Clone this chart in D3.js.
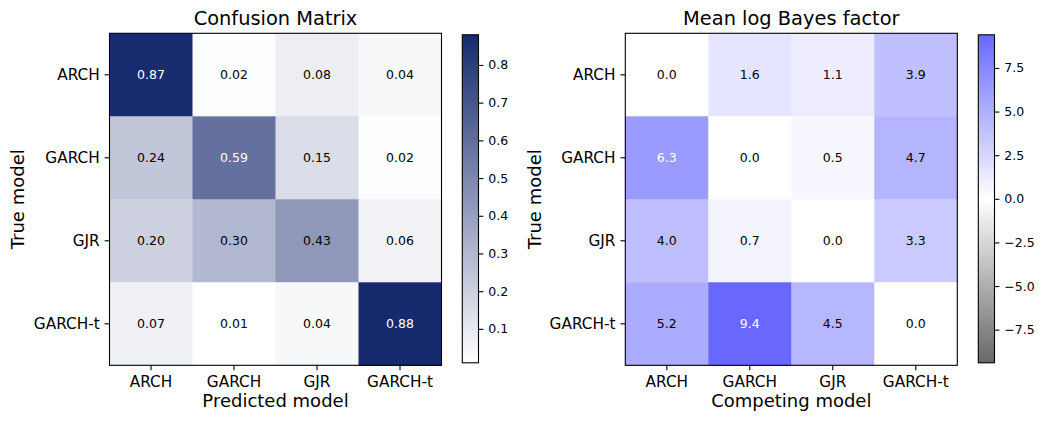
<!DOCTYPE html>
<html>
<head>
<meta charset="utf-8">
<script src="https://cdn.jsdelivr.net/npm/d3@7"></script>
<style>
  body { margin: 0; background: #fff; }
  svg text { font-family: "DejaVu Sans", sans-serif; }
</style>
</head>
<body>
<div id="chart"></div>
<script>
// model names, used on both axes of both panels
var models = ["ARCH", "GARCH", "GJR", "GARCH-t"];

// left panel: rows = true model, columns = predicted model
var confusion = [
  [0.87, 0.02, 0.08, 0.04],
  [0.24, 0.59, 0.15, 0.02],
  [0.20, 0.30, 0.43, 0.06],
  [0.07, 0.01, 0.04, 0.88]
];
var confusionTicks = [0.1, 0.2, 0.3, 0.4, 0.5, 0.6, 0.7, 0.8];

// right panel: rows = true model, columns = competing model
var bayes = [
  [0.0, 1.6, 1.1, 3.9],
  [6.3, 0.0, 0.5, 4.7],
  [4.0, 0.7, 0.0, 3.3],
  [5.2, 9.4, 4.5, 0.0]
];
var bayesTicks = [-7.5, -5.0, -2.5, 0.0, 2.5, 5.0, 7.5];

var W = 1044, H = 423;
var svg = d3.select("#chart").append("svg")
    .attr("width", W)
    .attr("height", H);
var defs = svg.append("defs");

var size = 332, top0 = 33.3;
var tickLen = 4.9, tickPad = 4.9;

var drawPanel = function(opt) {
  var g = svg.append("g")
      .attr("transform", "translate(" + opt.left + "," + top0 + ")");

  var x = d3.scaleBand().domain(models).range([0, size]);
  var y = d3.scaleBand().domain(models).range([0, size]);

  // cells
  var cells = [];
  opt.data.forEach(function(row, i) {
    row.forEach(function(v, j) {
      cells.push({row: models[i], col: models[j], v: v});
    });
  });

  g.selectAll("rect.cell")
    .data(cells)
    .join("rect")
      .attr("class", "cell")
      .attr("x", d => x(d.col))
      .attr("y", d => y(d.row))
      .attr("width", x.bandwidth() + 0.5)
      .attr("height", y.bandwidth() + 0.5)
      .attr("fill", d => opt.color(d.v));

  g.selectAll("text.val")
    .data(cells)
    .join("text")
      .attr("class", "val")
      .attr("x", d => x(d.col) + x.bandwidth() / 2)
      .attr("y", d => y(d.row) + y.bandwidth() / 2)
      .attr("text-anchor", "middle")
      .attr("dominant-baseline", "central")
      .style("font-size", "12.5px")
      .attr("fill", d => d.v > opt.whiteAbove ? "#fff" : "#000")
      .text(d => opt.fmt(d.v));

  // frame
  g.append("rect")
    .attr("width", size)
    .attr("height", size)
    .attr("fill", "none")
    .attr("stroke", "#000")
    .attr("stroke-width", 1.1);

  // axes
  var xa = g.append("g")
    .attr("transform", "translate(0," + size + ")")
    .call(d3.axisBottom(x).tickSize(tickLen).tickPadding(5.8));
  var ya = g.append("g")
    .call(d3.axisLeft(y).tickSize(tickLen).tickPadding(tickPad));
  [xa, ya].forEach(function(a) {
    a.select(".domain").remove();
    a.attr("font-family", null).attr("font-size", null);
    a.selectAll("line").attr("stroke", "#000").attr("stroke-width", 1.1);
    a.selectAll("text").style("font-size", "15.3px").attr("fill", "#000");
  });

  // title and labels
  g.append("text")
    .attr("x", size / 2)
    .attr("y", 25 - top0)
    .attr("text-anchor", "middle")
    .style("font-size", "19.4px")
    .text(opt.title);
  g.append("text")
    .attr("x", size / 2)
    .attr("y", 407.5 - top0)
    .attr("text-anchor", "middle")
    .style("font-size", "18px")
    .text(opt.xlabel);
  g.append("text")
    .attr("transform", "translate(" + (opt.ylabelX - opt.left) + "," + (size / 2) + ") rotate(-90)")
    .attr("text-anchor", "middle")
    .style("font-size", "18px")
    .text("True model");

  // colorbar
  var cbTop = 34.8, cbBot = 362.8, cbW = 16.2;
  var dom = opt.color.domain();
  var cy = d3.scaleLinear()
    .domain([dom[0], dom[dom.length - 1]])
    .range([cbBot - cbTop, 0]);

  var grad = defs.append("linearGradient")
    .attr("id", opt.id)
    .attr("x1", 0).attr("y1", 1).attr("x2", 0).attr("y2", 0);
  grad.selectAll("stop")
    .data(dom)
    .join("stop")
      .attr("offset", d => (d - dom[0]) / (dom[dom.length - 1] - dom[0]))
      .attr("stop-color", d => opt.color(d));

  var cb = svg.append("g")
    .attr("transform", "translate(" + opt.cbX + "," + cbTop + ")");
  cb.append("rect")
    .attr("width", cbW)
    .attr("height", cbBot - cbTop)
    .attr("fill", "url(#" + opt.id + ")")
    .attr("stroke", "#000")
    .attr("stroke-width", 1.1);
  var ca = cb.append("g")
    .attr("transform", "translate(" + cbW + ",0)")
    .call(d3.axisRight(cy).tickValues(opt.ticks).tickFormat(d3.format(".1f"))
      .tickSize(tickLen).tickPadding(tickPad));
  ca.select(".domain").remove();
  ca.attr("font-family", null).attr("font-size", null);
  ca.selectAll("line").attr("stroke", "#000").attr("stroke-width", 1.1);
  ca.selectAll("text").style("font-size", "12.5px").attr("fill", "#000");
};

drawPanel({
  id: "cm-grad",
  left: 109.5,
  cbX: 462.3,
  ylabelX: 24,
  data: confusion,
  title: "Confusion Matrix",
  xlabel: "Predicted model",
  color: d3.scaleLinear().domain([0.01, 0.88]).range(["#ffffff", "#162a6e"]),
  ticks: confusionTicks,
  whiteAbove: 0.5,
  fmt: d3.format(".2f")
});

drawPanel({
  id: "bf-grad",
  left: 625.3,
  cbX: 978.3,
  ylabelX: 540.7,
  data: bayes,
  title: "Mean log Bayes factor",
  xlabel: "Competing model",
  color: d3.scaleLinear().domain([-9.4, 0, 9.4]).range(["#686868", "#ffffff", "#6868ff"]),
  ticks: bayesTicks,
  whiteAbove: 6,
  fmt: d3.format(".1f")
});
</script>
</body>
</html>
